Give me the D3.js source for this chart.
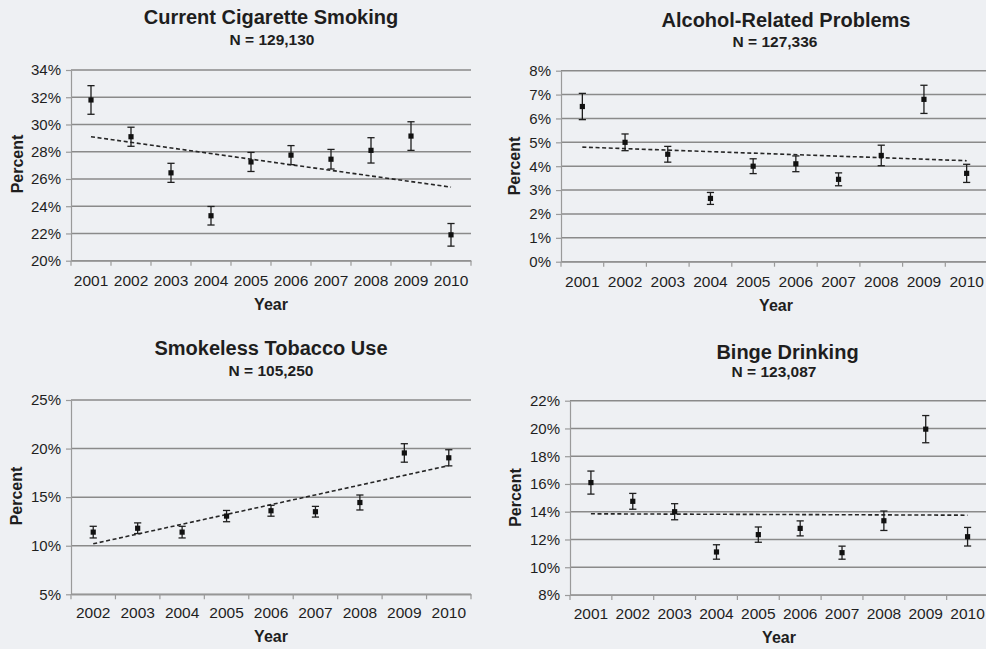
<!DOCTYPE html>
<html>
<head>
<meta charset="utf-8">
<script src="https://cdn.jsdelivr.net/npm/d3@7"></script>
<style>
  html, body { margin: 0; padding: 0; background: #eef0f3; }
  svg { display: block; font-family: "Liberation Sans", Arial, Helvetica, sans-serif; }
</style>
</head>
<body>
<svg id="chart" width="986" height="649"></svg>
<script>
// Survey years
const yearsFull = ["2001", "2002", "2003", "2004", "2005", "2006", "2007", "2008", "2009", "2010"];
const yearsSmokeless = ["2002", "2003", "2004", "2005", "2006", "2007", "2008", "2009", "2010"];

// Prevalence estimates (percent) and 95% CI half-widths
const cigaretteValues = [31.8, 29.1, 26.45, 23.3, 27.25, 27.75, 27.45, 28.1, 29.15, 21.9];
const cigaretteErrors = [1.05, 0.7, 0.7, 0.68, 0.7, 0.7, 0.72, 0.93, 1.05, 0.83];
const cigaretteTrend = [29.1, 25.4];
const cigaretteTicks = [20, 22, 24, 26, 28, 30, 32, 34];

const alcoholValues = [6.5, 5.0, 4.5, 2.65, 4.0, 4.1, 3.45, 4.45, 6.8, 3.7];
const alcoholErrors = [0.55, 0.35, 0.33, 0.25, 0.31, 0.33, 0.27, 0.43, 0.59, 0.38];
const alcoholTrend = [4.8, 4.23];
const alcoholTicks = [0, 1, 2, 3, 4, 5, 6, 7, 8];

const smokelessValues = [11.4, 11.8, 11.4, 13.05, 13.6, 13.5, 14.45, 19.55, 19.05];
const smokelessErrors = [0.6, 0.55, 0.6, 0.58, 0.56, 0.55, 0.77, 0.95, 0.83];
const smokelessTrend = [10.2, 18.25];
const smokelessTicks = [5, 10, 15, 20, 25];

const bingeValues = [16.1, 14.75, 14.0, 11.1, 12.35, 12.8, 11.05, 13.35, 19.95, 12.2];
const bingeErrors = [0.83, 0.57, 0.58, 0.52, 0.55, 0.54, 0.47, 0.7, 0.98, 0.67];
const bingeTrend = [13.85, 13.75];
const bingeTicks = [8, 10, 12, 14, 16, 18, 20, 22];

const titles = ["Current Cigarette Smoking", "Alcohol-Related Problems", "Smokeless Tobacco Use", "Binge Drinking"];
const sampleSizes = ["N = 129,130", "N = 127,336", "N = 105,250", "N = 123,087"];

// Panel layout
const panels = [
  { title: titles[0], sub: sampleSizes[0], years: yearsFull, values: cigaretteValues, errors: cigaretteErrors,
    trend: cigaretteTrend, ticks: cigaretteTicks,
    x0: 71, x1: 471, yTop: 70, yBot: 260.7,
    titleX: 271, titleY: 24, subX: 272, subY: 45, yearY: 286.5, axisX: 271, axisY: 309.5, pctX: 23, pctY: 164 },
  { title: titles[1], sub: sampleSizes[1], years: yearsFull, values: alcoholValues, errors: alcoholErrors,
    trend: alcoholTrend, ticks: alcoholTicks,
    x0: 561, x1: 988, yTop: 70.7, yBot: 261.7,
    titleX: 786, titleY: 26.5, subX: 775, subY: 46.5, yearY: 287.3, axisX: 776, axisY: 310.5, pctX: 519.5, pctY: 166 },
  { title: titles[2], sub: sampleSizes[2], years: yearsSmokeless, values: smokelessValues, errors: smokelessErrors,
    trend: smokelessTrend, ticks: smokelessTicks,
    x0: 71, x1: 471, yTop: 400, yBot: 594.3,
    titleX: 271, titleY: 355.3, subX: 271, subY: 376, yearY: 618.3, axisX: 271, axisY: 642, pctX: 22, pctY: 496 },
  { title: titles[3], sub: sampleSizes[3], years: yearsFull, values: bingeValues, errors: bingeErrors,
    trend: bingeTrend, ticks: bingeTicks,
    x0: 570, x1: 988.5, yTop: 400.7, yBot: 595,
    titleX: 787.5, titleY: 359.3, subX: 774, subY: 376.7, yearY: 619.3, axisX: 779, axisY: 642.5, pctX: 521, pctY: 497.5 }
];

const svg = d3.select("#chart");
const ink = "#1e1e1e";

panels.forEach(p => {
  const g = svg.append("g");
  const x = d3.scaleBand().domain(p.years).range([p.x0, p.x1]).padding(0);
  const y = d3.scaleLinear().domain([d3.min(p.ticks), d3.max(p.ticks)]).range([p.yBot, p.yTop]);
  const cx = d => x(d) + x.bandwidth() / 2;

  // horizontal gridlines
  g.append("g").selectAll("line").data(p.ticks).join("line")
    .attr("x1", p.x0).attr("x2", p.x1)
    .attr("y1", d => y(d)).attr("y2", d => y(d))
    .attr("stroke", "#8a8a8a").attr("stroke-width", 1.5);

  // y axis with percent labels
  const yAxis = d3.axisLeft(y).tickValues(p.ticks).tickFormat(d => d + "%")
    .tickSizeInner(5).tickSizeOuter(0).tickPadding(5);
  const ya = g.append("g").attr("transform", `translate(${p.x0},0)`).call(yAxis);
  ya.select(".domain").attr("stroke", "#9a9a9a").attr("stroke-width", 1.2);
  ya.selectAll(".tick line").attr("stroke", "#9a9a9a").attr("stroke-width", 1.2);
  ya.selectAll(".tick text").attr("fill", ink).attr("font-size", 15)
    .attr("font-family", "'Liberation Sans', Arial, sans-serif");

  // x axis: labels at band centres, tick marks on band boundaries
  const xAxis = d3.axisBottom(x).tickSize(0).tickPadding(0);
  const xa = g.append("g").attr("transform", `translate(0,${p.yBot})`).call(xAxis);
  xa.select(".domain").attr("stroke", "#9a9a9a").attr("stroke-width", 1.2);
  xa.selectAll(".tick text").attr("fill", ink).attr("font-size", 15.5)
    .attr("font-family", "'Liberation Sans', Arial, sans-serif")
    .attr("y", p.yearY - p.yBot).attr("dy", 0);
  const bounds = p.years.map(d => x(d)).concat([p.x1]);
  g.append("g").selectAll("line").data(bounds).join("line")
    .attr("x1", d => d).attr("x2", d => d)
    .attr("y1", p.yBot).attr("y2", p.yBot + 5)
    .attr("stroke", "#9a9a9a").attr("stroke-width", 1.2);

  // trend line
  const trendLine = d3.line().x(d => d[0]).y(d => y(d[1]));
  g.append("path")
    .attr("d", trendLine([[cx(p.years[0]), p.trend[0]], [cx(p.years[p.years.length - 1]), p.trend[1]]]))
    .attr("fill", "none").attr("stroke", "#262626").attr("stroke-width", 1.6)
    .attr("stroke-dasharray", "4,2.6");

  // error bars
  const pts = p.years.map((d, i) => ({ year: d, v: p.values[i], e: p.errors[i] }));
  const eb = g.append("g").attr("stroke", ink).attr("stroke-width", 1.3);
  eb.selectAll("line.stem").data(pts).join("line").attr("class", "stem")
    .attr("x1", d => cx(d.year)).attr("x2", d => cx(d.year))
    .attr("y1", d => y(d.v + d.e)).attr("y2", d => y(d.v - d.e));
  eb.selectAll("line.capTop").data(pts).join("line").attr("class", "capTop")
    .attr("x1", d => cx(d.year) - 3.6).attr("x2", d => cx(d.year) + 3.6)
    .attr("y1", d => y(d.v + d.e)).attr("y2", d => y(d.v + d.e));
  eb.selectAll("line.capBot").data(pts).join("line").attr("class", "capBot")
    .attr("x1", d => cx(d.year) - 3.6).attr("x2", d => cx(d.year) + 3.6)
    .attr("y1", d => y(d.v - d.e)).attr("y2", d => y(d.v - d.e));

  // point markers
  g.append("g").selectAll("rect").data(pts).join("rect")
    .attr("x", d => cx(d.year) - 2.6).attr("y", d => y(d.v) - 2.6)
    .attr("width", 5.2).attr("height", 5.2).attr("fill", "#111");

  // titles
  g.append("text").attr("x", p.titleX).attr("y", p.titleY).attr("text-anchor", "middle")
    .attr("font-size", 20).attr("font-weight", "bold").attr("fill", ink).text(p.title);
  g.append("text").attr("x", p.subX).attr("y", p.subY).attr("text-anchor", "middle")
    .attr("font-size", 15.5).attr("font-weight", "bold").attr("fill", ink).text(p.sub);
  g.append("text").attr("x", p.axisX).attr("y", p.axisY).attr("text-anchor", "middle")
    .attr("font-size", 16).attr("font-weight", "bold").attr("fill", ink).text("Year");
  g.append("text").attr("transform", `translate(${p.pctX},${p.pctY}) rotate(-90)`)
    .attr("text-anchor", "middle")
    .attr("font-size", 16).attr("font-weight", "bold").attr("fill", ink).text("Percent");
});
</script>
</body>
</html>
